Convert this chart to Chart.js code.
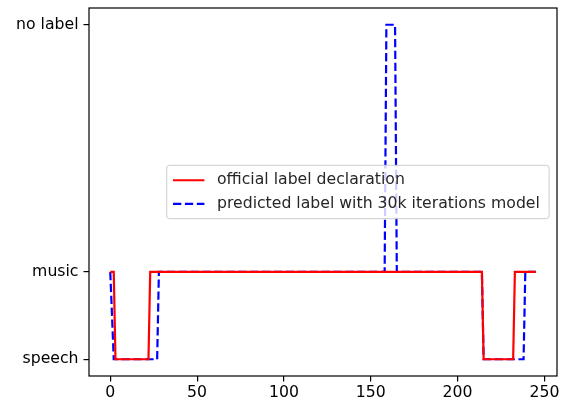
<!DOCTYPE html>
<html>
<head>
<meta charset="utf-8">
<script src="https://cdn.jsdelivr.net/npm/chart.js@4/dist/chart.umd.min.js"></script>
<style>
  html, body { margin: 0; padding: 0; background: #fff; }
  #wrap { width: 562px; height: 402px; }
</style>
</head>
<body>
<div id="wrap"><canvas id="chart" width="562" height="402"></canvas></div>
<script>
// y categories and where they sit on the numeric axis
const yTickLabels = ["speech", "music", "no label"];
const yTickValues = [0, 1, 3.83];
const xTicks      = [0, 50, 100, 150, 200, 250];

// step series, given only at the points where the label changes
const officialX = [0, 2, 3, 22, 23, 214, 215, 232, 233, 245];
const officialY = ["music", "music", "speech", "speech", "music", "music",
                   "speech", "speech", "music", "music"];

const predictedX = [0, 2, 27, 28, 158, 159, 164, 165, 214, 215, 238, 239, 245];
const predictedY = ["music", "speech", "speech", "music", "music", "no label",
                    "no label", "music", "music", "speech", "speech", "music", "music"];

const seriesLabels = ["official label declaration", "predicted label with 30k iterations model"];

const FS   = 15.7;
const FONT = "'DejaVu Sans', sans-serif";

function toPoints(xs, ys) {
  return xs.map((x, i) => ({ x, y: yTickValues[yTickLabels.indexOf(ys[i])] }));
}

// matplotlib-like 5% margins
const xSpan = 245, ySpan = yTickValues[2] - yTickValues[0];

// full box around the plot area
const frame = {
  id: "frame",
  afterDraw(chart) {
    const { ctx, chartArea: a } = chart;
    ctx.save();
    ctx.strokeStyle = "#000";
    ctx.lineWidth = 1.2;
    ctx.strokeRect(a.left, a.top, a.right - a.left, a.bottom - a.top);
    ctx.restore();
  }
};

// legend box, loc = "center right"
const boxLegend = {
  id: "boxLegend",
  afterDatasetsDraw(chart) {
    const { ctx, chartArea: a } = chart;
    const ds = chart.data.datasets;
    ctx.save();
    ctx.font = FS + "px " + FONT;
    const pad = 0.4 * FS, hLen = 2 * FS, hGap = 0.8 * FS, step = 1.5 * FS;
    const tw = Math.max(...ds.map(d => ctx.measureText(d.label).width));
    const w = pad + hLen + hGap + tw + pad + 3;
    const h = 2 * pad + step * (ds.length - 1) + FS * 1.1;
    const right = a.right - 0.5 * FS;
    const left = right - w;
    const top = (a.top + a.bottom) / 2 - h / 2;

    ctx.beginPath();
    ctx.roundRect(left, top, w, h, 3);
    ctx.fillStyle = "rgba(255,255,255,0.8)";
    ctx.fill();
    ctx.strokeStyle = "#cccccc";
    ctx.lineWidth = 1;
    ctx.stroke();

    ds.forEach((d, i) => {
      const cy = top + pad + FS * 0.55 + i * step;
      ctx.beginPath();
      ctx.strokeStyle = d.borderColor;
      ctx.lineWidth = d.borderWidth;
      ctx.setLineDash(d.borderDash || []);
      ctx.moveTo(left + pad, cy);
      ctx.lineTo(left + pad + hLen, cy);
      ctx.stroke();
      ctx.setLineDash([]);
      ctx.fillStyle = "#262626";
      ctx.textBaseline = "middle";
      ctx.fillText(d.label, left + pad + hLen + hGap, cy);
    });
    ctx.restore();
  }
};

const axisGrid = { display: true, drawOnChartArea: false, drawTicks: true, tickLength: 5.5, color: "#000", lineWidth: 1.2 };

new Chart(document.getElementById("chart"), {
  type: "line",
  data: {
    datasets: [
      {
        label: seriesLabels[0],
        data: toPoints(officialX, officialY),
        borderColor: "#ff0000",
        borderWidth: 2.2,
        pointRadius: 0,
        tension: 0,
        fill: false,
      },
      {
        label: seriesLabels[1],
        data: toPoints(predictedX, predictedY),
        borderColor: "#0000ff",
        borderWidth: 2.2,
        borderDash: [8.3, 3.6],
        pointRadius: 0,
        tension: 0,
        fill: false,
      },
    ],
  },
  options: {
    responsive: false,
    animation: false,
    devicePixelRatio: 1,
    layout: { padding: { left: 0, right: 5, top: 8, bottom: 0 } },
    scales: {
      x: {
        type: "linear",
        min: -0.05 * xSpan,
        max: xSpan * 1.05,
        grid: axisGrid,
        border: { display: false },
        afterBuildTicks: axis => { axis.ticks = xTicks.map(v => ({ value: v })); },
        afterFit: axis => { axis.height = 26; axis.paddingLeft = 0; axis.paddingRight = 0; },
        ticks: { color: "#000", font: { family: FONT, size: FS }, padding: 2, maxRotation: 0 },
      },
      y: {
        type: "linear",
        min: yTickValues[0] - 0.05 * ySpan,
        max: yTickValues[2] + 0.05 * ySpan,
        grid: axisGrid,
        border: { display: false },
        afterBuildTicks: axis => { axis.ticks = yTickValues.map(v => ({ value: v })); },
        afterFit: axis => { axis.width = 89; axis.paddingTop = 0; axis.paddingBottom = 0; },
        ticks: {
          color: "#000",
          font: { family: FONT, size: FS },
          padding: 5,
          callback: v => yTickLabels[yTickValues.indexOf(v)],
        },
      },
    },
    plugins: {
      legend: { display: false },
      tooltip: { enabled: false },
    },
  },
  plugins: [frame, boxLegend],
});
</script>
</body>
</html>
